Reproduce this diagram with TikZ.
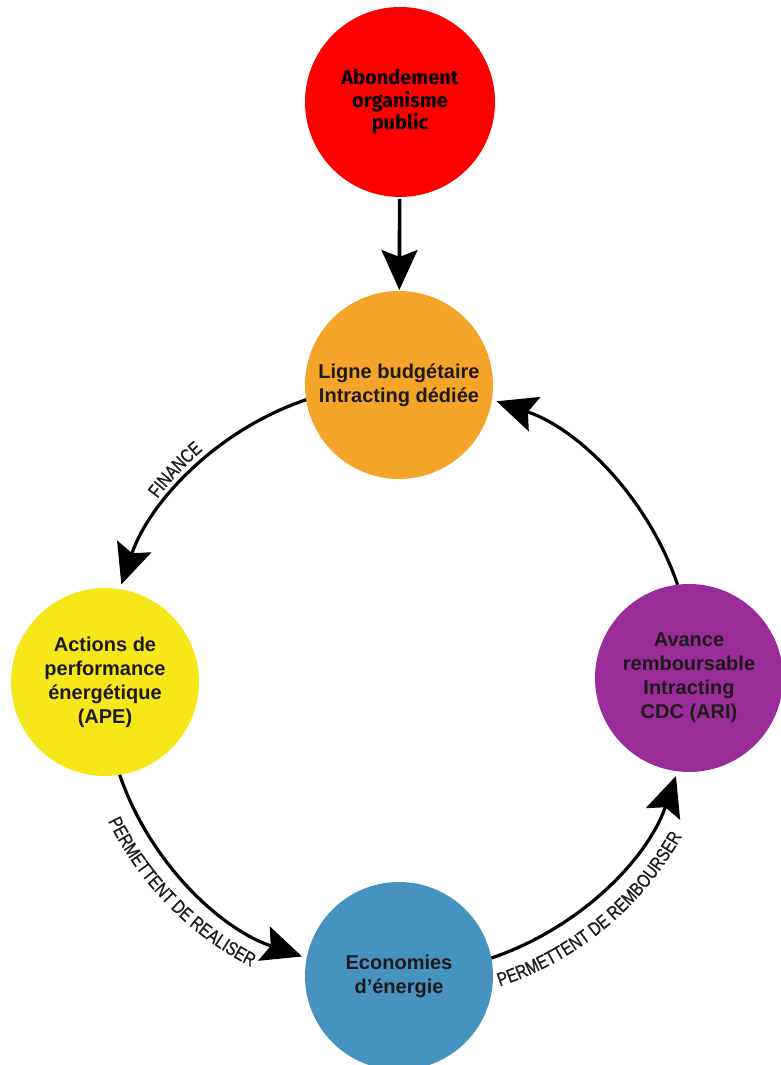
\documentclass[tikz,border=0pt]{standalone}
\usepackage{fontspec}
\setmainfont{Liberation Sans}
\newfontfamily\redfont{Fira Sans}
\newfontfamily\lblfamily{Liberation Sans}[FakeStretch=0.8,FakeBold=0.8]
\usetikzlibrary{arrows.meta,decorations.text}
\definecolor{cred}{HTML}{FF0000}
\definecolor{corange}{HTML}{F5A42A}
\definecolor{cyellow}{HTML}{F5E71A}
\definecolor{cpurple}{HTML}{9A2C9A}
\definecolor{cblue}{HTML}{4692C0}
\definecolor{ctext}{HTML}{1E1A1A}
\newcommand\lblfont{\lblfamily\fontsize{19}{22}\selectfont}
\begin{document}
\begin{tikzpicture}[x=1pt,y=1pt,
  bubble/.style={circle, inner sep=0pt, outer sep=0pt, minimum size=188pt, align=center,
    text=ctext, font=\bfseries\fontsize{20}{24}\selectfont},
  flow/.style={line width=3.2pt, -{Stealth[length=40pt,width=36pt,inset=7pt]}, shorten >=5pt},
  lbl/.style={decorate, decoration={text along path, text align=center, text color=ctext}},
]
\useasboundingbox (0,0) rectangle (781,1065);
\coordinate (C) at (399,386.5);
\node[bubble, fill=cred, minimum size=190pt, text=black,
  font=\redfont\bfseries\fontsize{20}{22.5}\selectfont] (red) at (400,963) {Abondement\\organisme\\public};
\node[bubble, fill=corange] (orange) at (399,680) {Ligne budgétaire\\Intracting dédiée};
\node[bubble, fill=cyellow] (yellow) at (105,383) {Actions de\\performance\\énergétique\\(APE)};
\node[bubble, fill=cpurple] (purple) at (689,387) {Avance\\remboursable\\Intracting\\CDC (ARI)};
\node[bubble, fill=cblue] (blue) at (399,89) {Economies\\d’énergie};

\draw[flow, line width=3.6pt, shorten <=2pt, shorten >=1pt] (red) -- (orange);
\draw[flow] (orange.189) to[out=198.7,in=71.1,looseness=0.9] (yellow.81);
\draw[flow] (yellow.279) to[out=288.9,in=161.3,looseness=0.9] (blue.169);
\draw[flow] (blue.11) to[out=18.7,in=251.1,looseness=0.9] (purple.263);
\draw[flow] (purple.97) to[out=108.9,in=341.3,looseness=0.9] (orange.351);

\path[lbl, decoration={text={|\lblfont|FINANCE}}]
  ([shift={(166:301)}]C) arc[start angle=166, end angle=108, radius=301];
\path[lbl, decoration={text={|\lblfont|PERMETTENT DE REALISER}}]
  ([shift={(190:324)}]C) arc[start angle=190, end angle=259, radius=324];
\path[lbl, decoration={text={|\lblfont|PERMETTENT DE REMBOURSER}}]
  ([shift={(274:324)}]C) arc[start angle=274, end angle=345, radius=324];
\end{tikzpicture}
\end{document}
